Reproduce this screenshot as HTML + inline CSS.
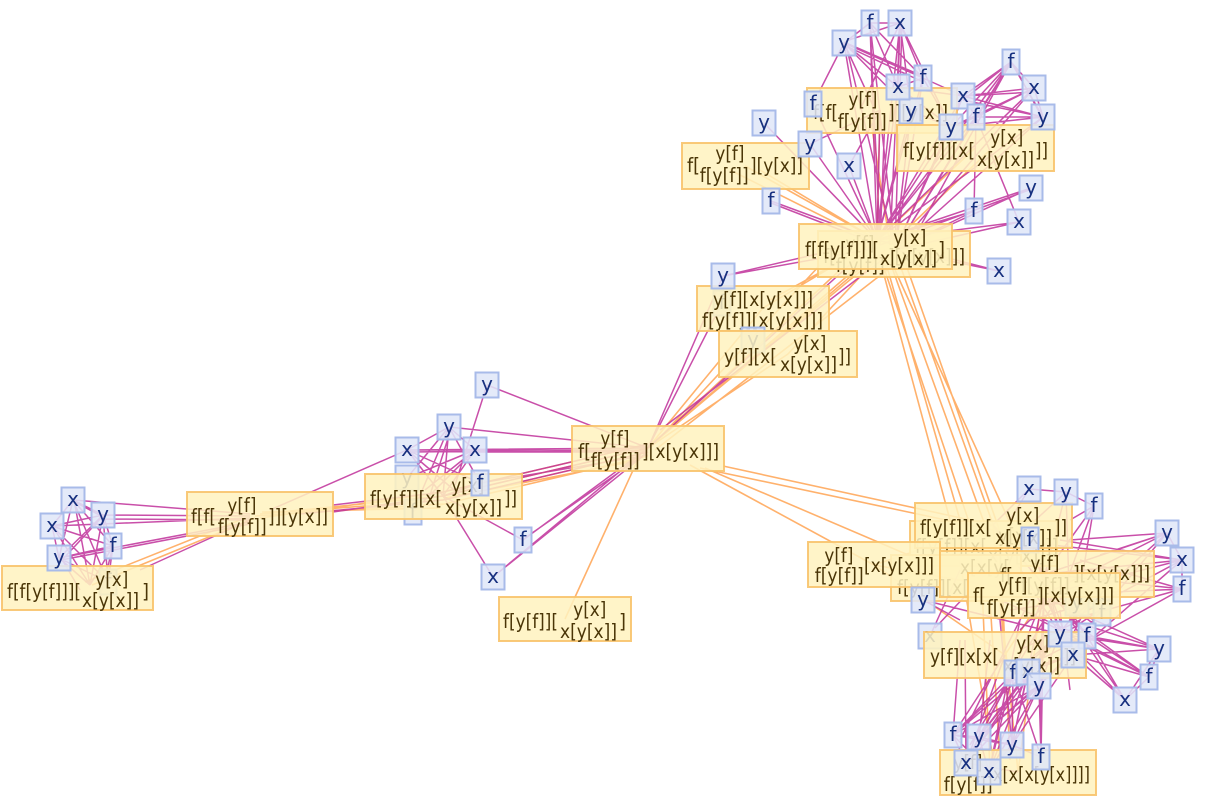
<!DOCTYPE html>
<html><head><meta charset="utf-8"><style>
html,body{margin:0;padding:0;background:#fff;}
svg{display:block;}
.o rect{fill:#fff2bf;fill-opacity:.86;stroke:#f8c36c;stroke-width:2;stroke-opacity:.9}
.o text{fill:#4a3507;font-family:"DejaVu Sans","Liberation Sans",sans-serif;font-size:19.5px}
.b rect{fill:#dfe7f8;fill-opacity:.86;stroke:#a8bbe9;stroke-width:2}
.b text{fill:#17307f;font-family:"DejaVu Sans","Liberation Sans",sans-serif;font-size:20px;text-anchor:middle}
</style></head><body>
<svg width="1206" height="798" viewBox="0 0 1206 798" xmlns="http://www.w3.org/2000/svg">
<rect width="1206" height="798" fill="#fff"/>
<!-- orange edges -->
<path fill="none" stroke="#ffa95c" stroke-width="1.6" stroke-opacity=".9" d="
M85 582L240 520 M92 585L255 518
M260 514L443 496 M260 514L443 500 M260 518L443 492 M255 516L443 504 M262 512L440 508
M443 496L648 448 M443 500L648 452 M443 492L648 444 M440 505L648 456 M445 498L640 460
M565 619L640 455
M648 448L840 270 M648 448L870 260 M648 448L860 265 M652 446L820 265 M655 450L900 260 M648 448L763 308 M648 448L788 354 M650 445L880 255
M723 466L993 525 M700 468L993 530 M690 465L874 565 M705 468L920 560
M880 260L950 520 M885 260L960 520 M890 262L985 525 M900 265L995 530 M905 262L1010 560 M895 270L1020 545 M882 262L975 540
M877 240L745 166 M877 240L760 170 M877 240L880 110 M890 245L870 115 M877 240L975 148 M890 245L990 150 M877 240L763 308 M885 250L788 354 M870 245L770 300 M880 245L730 170
M993 525L1005 655 M993 525L1018 772 M1000 540L1010 760 M980 540L990 770 M874 565L993 525 M874 565L1044 595 M874 565L1005 655 M1045 574L1018 772 M1044 595L1005 655 M993 525L1045 574 M990 600L1000 760 M960 560L995 770
"/>
<!-- magenta edges -->
<path fill="none" stroke="#c0309a" stroke-width="1.5" stroke-opacity=".85" d="
M73 500L52 526 M73 500L103 515 M75 502L103 517 M73 500L113 546 M73 500L59 558 M73 500L108 582 M74 500L90 585 M52 526L103 515 M52 526L113 546 M52 526L59 558 M52 526L108 582 M53 527L90 585 M103 515L113 546 M103 515L59 558 M103 516L62 560 M103 515L108 582 M103 515L90 585 M113 546L59 558 M113 546L108 582 M113 546L90 585 M59 558L108 582 M59 558L90 585 M60 556L80 590 M73 500L250 514 M103 515L250 516 M103 519L250 520 M52 526L250 518 M59 558L250 522 M61 560L250 524 M140 570L250 520 M113 546L100 598
M270 510L407 450 M333 512L443 496 M333 505L443 492 M300 514L443 500
M487 385L648 448 M487 385L455 485 M449 427L648 448 M449 427L407 450 M449 427L475 450 M449 427L480 483 M449 427L407 478 M449 427L443 496 M449 427L413 512 M451 429L430 495 M407 450L648 448 M407 452L648 450 M407 450L475 450 M407 450L480 483 M407 450L443 496 M407 450L460 495 M475 450L648 448 M475 452L648 452 M475 450L443 496 M475 450L407 478 M475 450L413 512 M475 450L425 490 M480 483L443 496 M480 483L648 455 M443 496L523 540 M523 540L648 448 M525 538L648 452 M493 577L648 448 M493 577L648 452 M493 577L443 496 M443 496L648 448 M443 500L648 452 M443 492L648 444
M844 43L877 240 M846 45L895 250 M844 43L870 23 M846 41L900 23 M844 43L898 87 M844 43L923 78 M844 45L923 82 M846 43L920 75 M844 43L911 111 M844 43L875 110
M870 23L900 23 M870 23L877 240 M870 23L880 240 M870 23L898 87 M870 23L923 78 M870 23L895 250
M900 23L898 87 M900 23L923 78 M900 23L877 240 M902 23L895 250 M900 23L890 245 M900 23L911 111 M900 23L951 127 M900 23L860 110
M898 87L923 78 M898 87L877 240 M898 87L951 127 M898 87L963 96
M923 78L963 96 M923 78L877 240 M923 78L895 250 M923 78L951 127
M813 104L877 240 M813 104L844 43
M963 96L1011 62 M963 96L1034 88 M963 96L1043 117 M963 96L951 127 M963 96L976 117 M963 96L877 240 M963 96L895 250 M963 96L1034 92
M1011 62L1034 88 M1011 62L1043 117 M1013 64L1043 119 M1011 62L976 117 M1011 62L951 127 M1011 62L877 240 M1011 62L895 250 M1011 62L910 245 M1011 62L963 100
M1034 88L1043 117 M1034 88L976 117 M1034 88L951 127 M1034 88L877 240 M1034 88L895 250 M1034 88L963 96
M1043 117L976 117 M1043 117L951 127 M1043 117L877 240 M1043 117L895 250 M1043 117L963 100
M976 117L951 127 M976 117L877 240 M976 117L895 250 M976 117L974 211
M951 127L877 240 M951 127L895 250 M951 127L911 111
M911 111L877 240 M911 111L895 250
M764 123L877 240 M764 123L872 235 M810 144L877 240 M810 144L880 110 M849 166L880 110 M849 166L877 240 M771 201L877 240 M771 203L877 244 M1031 188L877 240 M1031 188L895 250 M1029 190L880 245 M974 211L877 240 M974 211L895 250 M1019 222L877 240 M1019 222L895 250 M1019 222L976 117 M999 271L877 240 M999 271L895 250 M723 276L877 240 M723 276L877 248
M648 448L723 276 M648 448L722 303 M648 448L877 240 M660 430L895 250 M877 240L880 110 M880 245L885 115
M1029 489L1066 492 M1029 489L1010 520 M1029 489L993 525 M1066 492L1030 525 M1066 492L1045 574 M1066 492L1094 506 M1066 492L1070 620 M1094 506L1045 574 M1094 506L1070 520 M1094 506L1060 600 M1094 506L1075 620
M1167 533L1045 574 M1167 533L1070 540 M1167 533L1044 595 M1167 533L1070 620 M1167 533L1182 560 M1167 533L1100 555 M1167 533L1085 630
M1182 560L1045 574 M1182 560L1044 595 M1182 560L1070 620 M1182 560L1060 540 M1182 560L1182 589 M1182 560L1090 640 M1182 560L1010 540
M1182 589L1045 574 M1182 589L1044 595 M1182 589L1070 620 M1182 589L1080 560 M1182 589L1090 640
M1070 620L1159 649 M1060 634L1159 649 M1087 636L1159 649 M1073 655L1159 649 M1070 620L1149 677 M1060 634L1149 677 M1087 636L1149 677 M1073 655L1149 677 M1070 620L1125 700 M1060 634L1125 700 M1087 636L1125 700 M1073 655L1125 700 M1159 649L1149 677 M1149 677L1125 700 M1159 649L1125 700 M1040 620L1149 677 M1050 600L1159 649
M923 600L1060 634 M923 600L960 620 M930 636L960 570 M935 628L990 570
M1060 634L1013 673 M1060 634L1028 672 M1060 634L1039 686 M1087 636L1013 673 M1087 636L1039 686 M1073 655L1013 673 M1073 655L1028 672 M1070 620L1028 672 M1044 595L1039 686 M1044 595L1013 673 M1045 574L1060 634 M1045 574L1087 636 M1044 595L1073 655 M993 525L1060 634 M993 525L1087 636 M1030 540L1073 655 M1030 540L1060 634
M1013 673L953 735 M1013 673L979 737 M1013 673L1012 745 M1013 673L1041 757 M1013 673L966 763 M1013 673L989 772 M1028 672L953 735 M1028 672L979 737 M1028 672L1012 745 M1028 672L966 763 M1028 672L989 772 M1039 686L953 735 M1039 686L979 737 M1039 686L1012 745 M1039 686L1041 757 M1039 686L966 763 M1039 686L989 772 M1060 634L953 735 M1060 634L979 737 M1060 634L966 763 M1073 655L979 737 M1073 655L1012 745 M1005 655L953 735 M1005 655L966 763 M1044 595L1041 757 M1044 595L1012 745 M1030 600L960 740 M1050 610L970 745 M960 640L953 735 M965 640L966 763 M990 640L979 737 M1000 620L1012 745 M1020 620L989 772 M1040 640L1041 757
M953 735L979 737 M953 735L966 763 M953 735L989 772 M979 737L1012 745 M979 737L989 772 M1012 745L1041 757 M966 763L1018 772 M1012 745L989 772 M953 735L1012 745 M979 737L966 763
M1000 600L1090 640 M1010 610L1080 600 M1020 630L1070 580 M1030 620L1100 600 M1050 590L1095 625 M1040 650L1100 610 M1060 660L1090 600 M1020 650L1080 620 M1050 640L1110 640 M1060 610L1070 690
"/>

<!-- left cluster -->
<g class="b"><rect x="99.5" y="569.5" width="17" height="25"/><text x="108" y="588">f</text></g>
<g class="o"><rect x="2" y="566" width="151" height="44"/><text x="7" y="598" textLength="74" lengthAdjust="spacingAndGlyphs">f[f[y[f]]][</text><text x="95.3" y="586" textLength="33" lengthAdjust="spacingAndGlyphs">y[x]</text><text x="82" y="607" textLength="57" lengthAdjust="spacingAndGlyphs">x[y[x]]</text><text x="142" y="598" textLength="7" lengthAdjust="spacingAndGlyphs">]</text></g>
<g class="b"><rect x="61.5" y="487.5" width="23" height="25"/><text x="73" y="506">x</text></g>
<g class="b"><rect x="40.5" y="513.5" width="23" height="25"/><text x="52" y="532">x</text></g>
<g class="b"><rect x="91.5" y="502.5" width="23" height="25"/><text x="103" y="521">y</text></g>
<g class="b"><rect x="104.5" y="533.5" width="17" height="25"/><text x="113" y="552">f</text></g>
<g class="b"><rect x="47.5" y="545.5" width="23" height="25"/><text x="59" y="564">y</text></g>
<g class="o"><rect x="187" y="492" width="146" height="44"/><text x="191" y="523" textLength="25" lengthAdjust="spacingAndGlyphs">f[f[</text><text x="227.4" y="512" textLength="29" lengthAdjust="spacingAndGlyphs">y[f]</text><text x="217.7" y="533" textLength="49" lengthAdjust="spacingAndGlyphs">f[y[f]]</text><text x="268" y="523" textLength="60" lengthAdjust="spacingAndGlyphs">]][y[x]]</text></g>

<!-- middle cluster -->
<g class="b"><rect x="395.5" y="465.5" width="23" height="25"/><text x="407" y="484">y</text></g>
<g class="b"><rect x="404.5" y="499.5" width="17" height="25"/><text x="413" y="518">f</text></g>
<g class="o"><rect x="365" y="474" width="157" height="45"/><text x="370" y="505" textLength="72" lengthAdjust="spacingAndGlyphs">f[y[f]][x[</text><text x="451.3" y="492" textLength="33" lengthAdjust="spacingAndGlyphs">y[x]</text><text x="445" y="514" textLength="57" lengthAdjust="spacingAndGlyphs">x[y[x]]</text><text x="504" y="505" textLength="13" lengthAdjust="spacingAndGlyphs">]]</text></g>
<g class="b"><rect x="471.5" y="470.5" width="17" height="25"/><text x="480" y="489">f</text></g>
<g class="b"><rect x="475.5" y="372.5" width="23" height="25"/><text x="487" y="391">y</text></g>
<g class="b"><rect x="437.5" y="414.5" width="23" height="25"/><text x="449" y="433">y</text></g>
<g class="b"><rect x="395.5" y="437.5" width="23" height="25"/><text x="407" y="456">x</text></g>
<g class="b"><rect x="463.5" y="437.5" width="23" height="25"/><text x="475" y="456">x</text></g>
<g class="b"><rect x="514.5" y="527.5" width="17" height="25"/><text x="523" y="546">f</text></g>
<g class="b"><rect x="481.5" y="564.5" width="23" height="25"/><text x="493" y="583">x</text></g>
<g class="o"><rect x="572" y="426" width="152" height="45"/><text x="578" y="458" textLength="13" lengthAdjust="spacingAndGlyphs">f[</text><text x="600.4" y="445" textLength="29" lengthAdjust="spacingAndGlyphs">y[f]</text><text x="590.7" y="467" textLength="49" lengthAdjust="spacingAndGlyphs">f[y[f]]</text><text x="642" y="458" textLength="77" lengthAdjust="spacingAndGlyphs">][x[y[x]]]</text></g>
<g class="o"><rect x="499" y="597" width="132" height="44"/><text x="503" y="628" textLength="55" lengthAdjust="spacingAndGlyphs">f[y[f]][</text><text x="573.3" y="616" textLength="33" lengthAdjust="spacingAndGlyphs">y[x]</text><text x="560" y="638" textLength="57" lengthAdjust="spacingAndGlyphs">x[y[x]]</text><text x="619" y="628" textLength="7" lengthAdjust="spacingAndGlyphs">]</text></g>

<!-- upper-middle boxes -->
<g class="b"><rect x="713.5" y="290.5" width="17" height="25"/><text x="722" y="309">f</text></g>
<g class="o"><rect x="697" y="286" width="132" height="45"/><text x="713" y="306" textLength="100" lengthAdjust="spacingAndGlyphs">y[f][x[y[x]]]</text><text x="702" y="327" textLength="121" lengthAdjust="spacingAndGlyphs">f[y[f]][x[y[x]]]</text></g>
<g class="b"><rect x="741.5" y="327.5" width="23" height="25"/><text x="753" y="346">y</text></g>
<g class="o"><rect x="719" y="331" width="138" height="46"/><text x="724" y="363" textLength="53" lengthAdjust="spacingAndGlyphs">y[f][x[</text><text x="793.3" y="350" textLength="33" lengthAdjust="spacingAndGlyphs">y[x]</text><text x="780" y="371" textLength="57" lengthAdjust="spacingAndGlyphs">x[y[x]]</text><text x="838" y="363" textLength="13" lengthAdjust="spacingAndGlyphs">]]</text></g>
<g class="b"><rect x="711.5" y="263.5" width="23" height="25"/><text x="723" y="282">y</text></g>

<!-- top cluster -->
<g class="o"><rect x="682" y="143" width="127" height="46"/><text x="687" y="172" textLength="13" lengthAdjust="spacingAndGlyphs">f[</text><text x="715.4" y="160" textLength="29" lengthAdjust="spacingAndGlyphs">y[f]</text><text x="699.7" y="182" textLength="49" lengthAdjust="spacingAndGlyphs">f[y[f]]</text><text x="750" y="172" textLength="53" lengthAdjust="spacingAndGlyphs">][y[x]]</text></g>
<g class="o"><rect x="807" y="88" width="150" height="45"/><text x="813" y="119" textLength="25" lengthAdjust="spacingAndGlyphs">f[f[</text><text x="848.4" y="106" textLength="29" lengthAdjust="spacingAndGlyphs">y[f]</text><text x="837.7" y="128" textLength="49" lengthAdjust="spacingAndGlyphs">f[y[f]]</text><text x="888" y="119" textLength="60" lengthAdjust="spacingAndGlyphs">]][y[x]]</text></g>
<g class="b"><rect x="804.5" y="91.5" width="17" height="25"/><text x="813" y="110">f</text></g>
<g class="b"><rect x="899.5" y="98.5" width="23" height="25"/><text x="911" y="117">y</text></g>
<g class="o"><rect x="897" y="125" width="157" height="46"/><text x="903" y="157" textLength="72" lengthAdjust="spacingAndGlyphs">f[y[f]][x[</text><text x="990.3" y="144" textLength="33" lengthAdjust="spacingAndGlyphs">y[x]</text><text x="977" y="166" textLength="57" lengthAdjust="spacingAndGlyphs">x[y[x]]</text><text x="1035" y="157" textLength="13" lengthAdjust="spacingAndGlyphs">]]</text></g>
<g class="b"><rect x="939.5" y="114.5" width="23" height="25"/><text x="951" y="133">y</text></g>
<g class="b"><rect x="832.5" y="30.5" width="23" height="25"/><text x="844" y="49">y</text></g>
<g class="b"><rect x="861.5" y="10.5" width="17" height="25"/><text x="870" y="29">f</text></g>
<g class="b"><rect x="888.5" y="10.5" width="23" height="25"/><text x="900" y="29">x</text></g>
<g class="b"><rect x="886.5" y="74.5" width="23" height="25"/><text x="898" y="93">x</text></g>
<g class="b"><rect x="914.5" y="65.5" width="17" height="25"/><text x="923" y="84">f</text></g>
<g class="b"><rect x="951.5" y="83.5" width="23" height="25"/><text x="963" y="102">x</text></g>
<g class="b"><rect x="1002.5" y="49.5" width="17" height="25"/><text x="1011" y="68">f</text></g>
<g class="b"><rect x="1022.5" y="75.5" width="23" height="25"/><text x="1034" y="94">x</text></g>
<g class="b"><rect x="1031.5" y="104.5" width="23" height="25"/><text x="1043" y="123">y</text></g>
<g class="b"><rect x="967.5" y="104.5" width="17" height="25"/><text x="976" y="123">f</text></g>
<g class="b"><rect x="752.5" y="110.5" width="23" height="25"/><text x="764" y="129">y</text></g>
<g class="b"><rect x="798.5" y="131.5" width="23" height="25"/><text x="810" y="150">y</text></g>
<g class="b"><rect x="837.5" y="153.5" width="23" height="25"/><text x="849" y="172">x</text></g>
<g class="b"><rect x="762.5" y="188.5" width="17" height="25"/><text x="771" y="207">f</text></g>
<g class="b"><rect x="1019.5" y="175.5" width="23" height="25"/><text x="1031" y="194">y</text></g>
<g class="b"><rect x="965.5" y="198.5" width="17" height="25"/><text x="974" y="217">f</text></g>
<g class="b"><rect x="1007.5" y="209.5" width="23" height="25"/><text x="1019" y="228">x</text></g>
<g class="b"><rect x="987.5" y="258.5" width="23" height="25"/><text x="999" y="277">x</text></g>
<g class="o"><rect x="818" y="231" width="152" height="46"/><text x="823" y="263" textLength="13" lengthAdjust="spacingAndGlyphs">f[</text><text x="845.4" y="250" textLength="29" lengthAdjust="spacingAndGlyphs">y[f]</text><text x="835.7" y="272" textLength="49" lengthAdjust="spacingAndGlyphs">f[y[f]]</text><text x="888" y="263" textLength="77" lengthAdjust="spacingAndGlyphs">][x[y[x]]]</text></g>
<g class="o"><rect x="799" y="224" width="153" height="45"/><text x="805" y="256" textLength="74" lengthAdjust="spacingAndGlyphs">f[f[y[f]]][</text><text x="893.3" y="244" textLength="33" lengthAdjust="spacingAndGlyphs">y[x]</text><text x="880" y="265" textLength="57" lengthAdjust="spacingAndGlyphs">x[y[x]]</text><text x="938" y="256" textLength="7" lengthAdjust="spacingAndGlyphs">]</text></g>

<!-- bottom-right cluster -->
<g class="o"><rect x="910" y="521" width="147" height="45"/><text x="915" y="553" textLength="72" lengthAdjust="spacingAndGlyphs">f[y[f]][x[</text><text x="998.3" y="542" textLength="33" lengthAdjust="spacingAndGlyphs">y[x]</text><text x="988" y="562" textLength="57" lengthAdjust="spacingAndGlyphs">x[y[x]]</text><text x="1045" y="553" textLength="13" lengthAdjust="spacingAndGlyphs">]]</text></g>
<g class="o"><rect x="891" y="555" width="130" height="46"/><text x="897" y="594" textLength="72" lengthAdjust="spacingAndGlyphs">f[y[f]][x[</text><text x="960" y="574" textLength="50" lengthAdjust="spacingAndGlyphs">x[x[y[</text></g>
<g class="o"><rect x="915" y="503" width="157" height="45"/><text x="920" y="534" textLength="72" lengthAdjust="spacingAndGlyphs">f[y[f]][x[</text><text x="1006.3" y="522" textLength="33" lengthAdjust="spacingAndGlyphs">y[x]</text><text x="995" y="544" textLength="57" lengthAdjust="spacingAndGlyphs">x[y[x]]</text><text x="1054" y="534" textLength="13" lengthAdjust="spacingAndGlyphs">]]</text></g>
<g class="b"><rect x="1021.5" y="527.5" width="17" height="25"/><text x="1030" y="546">f</text></g>
<g class="o"><rect x="808" y="542" width="132" height="45"/><text x="824.4" y="562" textLength="29" lengthAdjust="spacingAndGlyphs">y[f]</text><text x="814.7" y="582" textLength="49" lengthAdjust="spacingAndGlyphs">f[y[f]]</text><text x="864" y="572" textLength="70" lengthAdjust="spacingAndGlyphs">[x[y[x]]]</text></g>
<g class="b"><rect x="911.5" y="587.5" width="23" height="25"/><text x="923" y="606">y</text></g>
<g class="b"><rect x="1065.5" y="590.5" width="23" height="25"/><text x="1077" y="609">y</text></g>
<g class="b"><rect x="1088.5" y="582.5" width="23" height="25"/><text x="1100" y="601">x</text></g>
<g class="b"><rect x="1093.5" y="600.5" width="17" height="25"/><text x="1102" y="619">f</text></g>
<g class="o"><rect x="940" y="551" width="214" height="46"/><text x="1000" y="582" textLength="13" lengthAdjust="spacingAndGlyphs">f[</text><text x="1030.4" y="570" textLength="29" lengthAdjust="spacingAndGlyphs">y[f]</text><text x="1020.7" y="592" textLength="49" lengthAdjust="spacingAndGlyphs">f[y[f]]</text><text x="1073" y="580" textLength="77" lengthAdjust="spacingAndGlyphs">][x[y[x]]]</text></g>
<g class="o"><rect x="968" y="573" width="152" height="45"/><text x="973" y="602" textLength="13" lengthAdjust="spacingAndGlyphs">f[</text><text x="998.4" y="592" textLength="29" lengthAdjust="spacingAndGlyphs">y[f]</text><text x="986.7" y="614" textLength="49" lengthAdjust="spacingAndGlyphs">f[y[f]]</text><text x="1037" y="602" textLength="77" lengthAdjust="spacingAndGlyphs">][x[y[x]]]</text></g>
<g class="b"><rect x="918.5" y="623.5" width="23" height="25"/><text x="930" y="642">x</text></g>
<g class="o"><rect x="924" y="632" width="162" height="46"/><text x="930" y="663" textLength="69" lengthAdjust="spacingAndGlyphs">y[f][x[x[</text><text x="1016.3" y="650" textLength="33" lengthAdjust="spacingAndGlyphs">y[x]</text><text x="1003" y="672" textLength="57" lengthAdjust="spacingAndGlyphs">x[y[x]]</text><text x="1063" y="663" textLength="13" lengthAdjust="spacingAndGlyphs">]]</text></g>
<g class="b"><rect x="1048.5" y="621.5" width="23" height="25"/><text x="1060" y="640">y</text></g>
<g class="b"><rect x="1078.5" y="623.5" width="17" height="25"/><text x="1087" y="642">f</text></g>
<g class="b"><rect x="1061.5" y="642.5" width="23" height="25"/><text x="1073" y="661">x</text></g>
<g class="b"><rect x="1017.5" y="476.5" width="23" height="25"/><text x="1029" y="495">x</text></g>
<g class="b"><rect x="1054.5" y="479.5" width="23" height="25"/><text x="1066" y="498">y</text></g>
<g class="b"><rect x="1085.5" y="493.5" width="17" height="25"/><text x="1094" y="512">f</text></g>
<g class="b"><rect x="1155.5" y="520.5" width="23" height="25"/><text x="1167" y="539">y</text></g>
<g class="b"><rect x="1170.5" y="547.5" width="23" height="25"/><text x="1182" y="566">x</text></g>
<g class="b"><rect x="1173.5" y="576.5" width="17" height="25"/><text x="1182" y="595">f</text></g>
<g class="b"><rect x="1147.5" y="636.5" width="23" height="25"/><text x="1159" y="655">y</text></g>
<g class="b"><rect x="1140.5" y="664.5" width="17" height="25"/><text x="1149" y="683">f</text></g>
<g class="b"><rect x="1113.5" y="687.5" width="23" height="25"/><text x="1125" y="706">x</text></g>
<g class="b"><rect x="1004.5" y="660.5" width="17" height="25"/><text x="1013" y="679">f</text></g>
<g class="b"><rect x="1016.5" y="659.5" width="23" height="25"/><text x="1028" y="678">x</text></g>
<g class="b"><rect x="1027.5" y="673.5" width="23" height="25"/><text x="1039" y="692">y</text></g>
<g class="o"><rect x="940" y="750" width="156" height="45"/><text x="953.4" y="769" textLength="29" lengthAdjust="spacingAndGlyphs">y[f]</text><text x="943.7" y="791" textLength="49" lengthAdjust="spacingAndGlyphs">f[y[f]]</text><text x="993" y="781" textLength="97" lengthAdjust="spacingAndGlyphs">x[x[x[y[x]]]]</text></g>
<g class="b"><rect x="944.5" y="722.5" width="17" height="25"/><text x="953" y="741">f</text></g>
<g class="b"><rect x="967.5" y="724.5" width="23" height="25"/><text x="979" y="743">y</text></g>
<g class="b"><rect x="1000.5" y="732.5" width="23" height="25"/><text x="1012" y="751">y</text></g>
<g class="b"><rect x="1032.5" y="744.5" width="17" height="25"/><text x="1041" y="763">f</text></g>
<g class="b"><rect x="954.5" y="750.5" width="23" height="25"/><text x="966" y="769">x</text></g>
<g class="b"><rect x="977.5" y="759.5" width="23" height="25"/><text x="989" y="778">x</text></g>
</svg>
</body></html>
